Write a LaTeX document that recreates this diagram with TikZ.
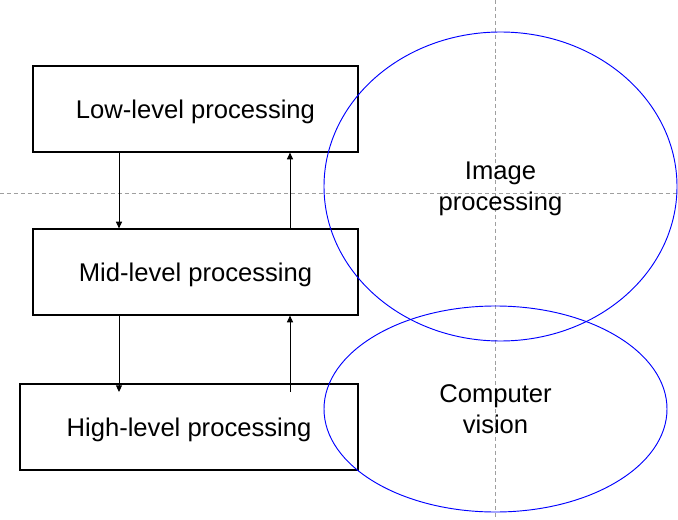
\documentclass[tikz,border=0pt]{standalone}
\usepackage{fontspec}
\setmainfont{Liberation Sans}
\usetikzlibrary{shapes.geometric,arrows.meta}
\begin{document}
\begin{tikzpicture}[x=0.75pt,y=-0.75pt,
  box/.style={draw=black,line width=0.9pt,inner sep=0pt,minimum height=64.5pt,text depth=0pt,font=\fontsize{19.2}{23}\selectfont},
  oval/.style={draw=blue,line width=0.7pt,ellipse,inner sep=0pt,align=center,text depth=0pt,font=\fontsize{19.2}{23.5}\selectfont},
  guide/.style={draw=gray!75,line width=0.7pt,dash pattern=on 3pt off 2.2pt},
  arr/.style={draw=black,line width=0.75pt,-{Triangle[length=5pt,width=4.5pt]}}]
\useasboundingbox (0,0) rectangle (678,520);
% guide lines
\draw[guide] (0,193) -- (678,193);
\draw[guide] (495.5,0) -- (495.5,520);
% boxes
\node[box,minimum width=243.75pt] (low) at (195.5,109) {Low-level processing};
\node[box,minimum width=243.75pt] (mid) at (195.5,272) {Mid-level processing};
\node[box,minimum width=253.5pt] (high) at (189,427) {High-level processing};
% ellipses
\node[oval,minimum width=264.75pt,minimum height=231.75pt] (ip) at (500.5,186.5) {Image\\processing};
\node[oval,minimum width=257.25pt,minimum height=154.5pt] (cv) at (495.5,409) {Computer\\vision};
% arrow columns
\coordinate (cl) at (119,0);
\coordinate (cr) at (290,0);
\coordinate (hl) at (119,392);
\coordinate (hr) at (290,392);
\draw[arr] (low.south -| cl) -- (mid.north -| cl);
\draw[arr] (mid.north -| cr) -- (low.south -| cr);
\draw[arr] (mid.south -| cl) -- (hl);
\draw[arr] (hr) -- (mid.south -| cr);
\end{tikzpicture}
\end{document}
